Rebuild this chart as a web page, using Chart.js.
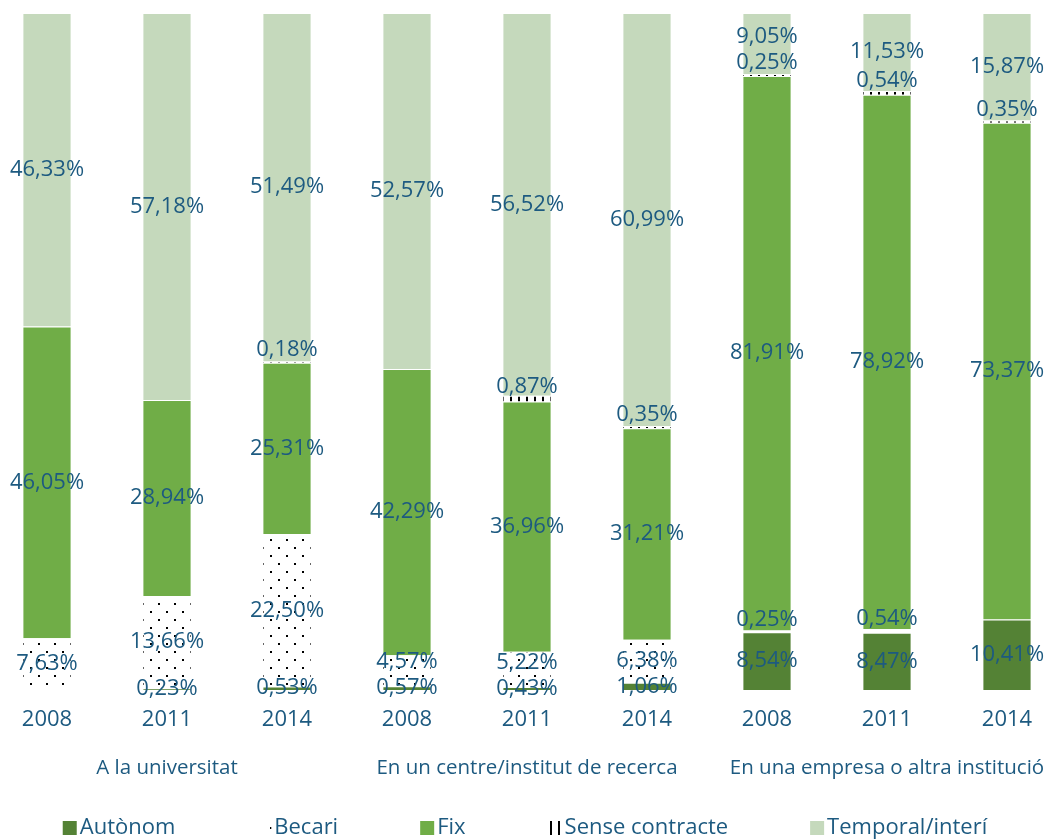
<!DOCTYPE html>
<html>
<head>
<meta charset="utf-8">
<script src="https://cdn.jsdelivr.net/npm/chart.js@4"></script>
<style>
html, body { margin: 0; padding: 0; overflow: hidden; background: #fff; }
#wrap { position: absolute; left: -13px; top: 0; width: 1080px; height: 839px; }
</style>
</head>
<body>
<div id="wrap"><canvas id="chart"></canvas></div>
<script>
const years = ['2008', '2011', '2014', '2008', '2011', '2014', '2008', '2011', '2014'];
const groups = ['A la universitat', 'En un centre/institut de recerca', 'En una empresa o altra institució'];
const seriesNames = ['Autònom', 'Becari', 'Fix', 'Sense contracte', 'Temporal/interí'];

const autonom = [0, 0.23, 0.53, 0.57, 0.43, 1.06, 8.54, 8.47, 10.41];
const becari = [7.63, 13.66, 22.50, 4.57, 5.22, 6.38, 0.25, 0.54, 0];
const fix = [46.05, 28.94, 25.31, 42.29, 36.96, 31.21, 81.91, 78.92, 73.37];
const senseContracte = [0, 0, 0.18, 0, 0.87, 0.35, 0.25, 0.54, 0.35];
const temporal = [46.33, 57.18, 51.49, 52.57, 56.52, 60.99, 9.05, 11.53, 15.87];

const textColor = '#1D5A80';
const fontFamily = '"Open Sans", "Noto Sans", sans-serif';
const fontSize = 22;

function makePattern(kind) {
    const c = document.createElement('canvas');
    const p = c.getContext('2d');
    p.fillStyle = '#22628A';
    if (kind === 'dots') {
        c.width = 16; c.height = 16;
        p.fillRect(3, 3, 2, 2);
        p.fillRect(11, 11, 2, 2);
    } else {
        c.width = 8; c.height = 8;
        p.fillRect(3, 0, 2, 8);
    }
    return p.createPattern(c, 'repeat');
}

const dotFill = makePattern('dots');
const lineFill = makePattern('lines');

// labels on each segment, pushed up a bit when they would collide
const segmentLabels = {
    id: 'segmentLabels',
    afterDatasetsDraw(chart) {
        const ctx = chart.ctx;
        ctx.save();
        ctx.font = fontSize + 'px ' + fontFamily;
        ctx.fillStyle = textColor;
        ctx.textAlign = 'center';
        ctx.textBaseline = 'middle';
        for (let i = 0; i < chart.data.labels.length; i++) {
            let prevY = null;
            chart.data.datasets.forEach((ds, di) => {
                const v = ds.data[i];
                if (!v) return;
                const bar = chart.getDatasetMeta(di).data[i];
                let y = (bar.y + bar.base) / 2;
                if (v < 1.5 && prevY !== null) y -= 12;
                if (prevY !== null && prevY - y < 26) y = prevY - 26;
                ctx.fillText(v.toFixed(2).replace('.', ',') + '%', bar.x, y);
                prevY = y;
            });
        }
        ctx.restore();
    }
};

const bottomLegend = {
    id: 'bottomLegend',
    afterDraw(chart) {
        const ctx = chart.ctx;
        ctx.save();
        ctx.font = fontSize + 'px ' + fontFamily;
        ctx.textBaseline = 'middle';
        const items = chart.data.datasets.map(ds => ({
            text: ds.label,
            fill: ds.backgroundColor,
            w: ctx.measureText(ds.label).width
        }));
        const box = 14, gap = 3, space = 82;
        const total = items.reduce((s, it) => s + box + gap + it.w, 0) + space * (items.length - 1);
        let x = 538 - total / 2;
        const y = 828;
        items.forEach(it => {
            ctx.fillStyle = it.fill;
            ctx.fillRect(x, y - 7, box, box);
            ctx.fillStyle = textColor;
            ctx.fillText(it.text, x + box + gap, y);
            x += box + gap + it.w + space;
        });
        ctx.restore();
    }
};

const fills = ['#548235', dotFill, '#70AD47', lineFill, '#C5D9BC'];
const values = [autonom, becari, fix, senseContracte, temporal];

function fixedAxis(h) {
    return s => {
        s.height = h;
        s.paddingLeft = 0;
        s.paddingRight = 0;
    };
}

new Chart(document.getElementById('chart'), {
    type: 'bar',
    data: {
        labels: years,
        datasets: seriesNames.map((name, k) => ({
            label: name,
            data: values[k].map(v => v || null),
            backgroundColor: fills[k],
            borderColor: 'rgba(255,255,255,0.6)',
            borderWidth: 1,
            barPercentage: 0.41,
            categoryPercentage: 1
        }))
    },
    options: {
        responsive: true,
        maintainAspectRatio: false,
        animation: false,
        layout: { padding: { top: 13, bottom: 57, left: 0, right: 0 } },
        plugins: {
            legend: { display: false },
            tooltip: { enabled: false }
        },
        scales: {
            x: {
                stacked: true,
                grid: { display: false, drawTicks: false },
                border: { display: false },
                ticks: {
                    autoSkip: false, maxRotation: 0, padding: 17,
                    color: textColor, font: { size: fontSize, family: fontFamily }
                },
                afterFit: fixedAxis(44)
            },
            x2: {
                type: 'category',
                labels: groups,
                position: 'bottom',
                offset: true,
                weight: 1,
                grid: { display: false, drawTicks: false },
                border: { display: false },
                ticks: {
                    autoSkip: false, maxRotation: 0, padding: 22,
                    color: textColor, font: { size: 20.5, family: fontFamily }
                },
                afterFit: fixedAxis(48)
            },
            y: { stacked: true, display: false, min: 0, max: 100 }
        }
    },
    plugins: [segmentLabels, bottomLegend]
});
</script>
</body>
</html>
